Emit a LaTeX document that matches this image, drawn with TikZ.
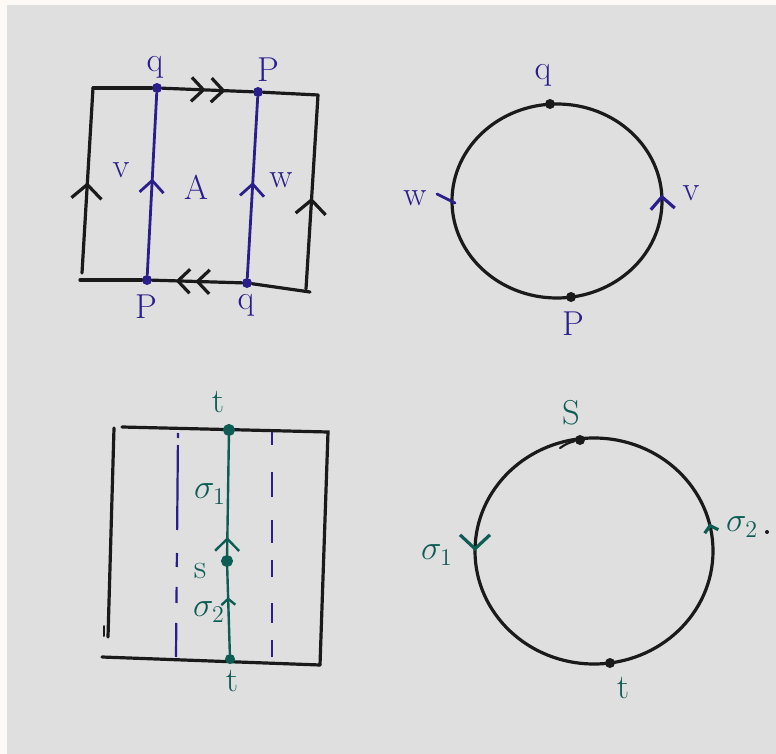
\documentclass[tikz,border=0pt]{standalone}
\usepackage{xcolor}
\usepackage{tikz}
\usetikzlibrary{arrows.meta,decorations.markings}
\definecolor{inkblue}{HTML}{2A1E8C}
\definecolor{inkteal}{HTML}{0E5D55}
\definecolor{inkblack}{HTML}{1A1A1A}
\definecolor{paper}{HTML}{DFDFDF}
\definecolor{rim}{HTML}{FDF9F6}
\begin{document}
\begin{tikzpicture}[x=0.5pt,y=0.5pt, every node/.style={font=\LARGE},
  bigchev/.tip={Straight Barb[length=7pt,width=15pt]},
  chev/.tip={Straight Barb[length=6pt,width=12pt]},
  minichev/.tip={Straight Barb[length=3pt,width=7pt]},
  edge/.style={inkblack,line width=1.6pt,line cap=round},
  bluepath/.style={inkblue,line width=1.4pt,line cap=round},
  tealpath/.style={inkteal,line width=1.2pt,line cap=round},
  dot/.style={circle,fill,inner sep=0pt,minimum size=5pt},
  ringdot/.style={circle,draw,fill=paper,line width=1pt,inner sep=0pt,minimum size=5pt},
  tipat/.style 2 args={postaction={decorate,decoration={markings,mark=at position #1 with {\arrow#2}}}}]
  \fill[rim] (0,0) rectangle (776,-754);
  \fill[paper] (7,-5) rectangle (776,-754);
  \useasboundingbox (0,0) rectangle (776,-754);

  \coordinate (tl) at (93,-88);
  \coordinate (tr) at (318,-95);
  \coordinate (bl) at (80,-280);
  \coordinate (br) at (310,-292);
  \coordinate (lb) at (82,-273);
  \coordinate (rb) at (306,-289);
  \node[dot,inkblue] (q1) at (157,-88) {};
  \node[dot,inkblue] (p1) at (258,-92) {};
  \node[dot,inkblue] (p2) at (147,-280) {};
  \node[dot,inkblue] (q2) at (247,-283) {};
  \draw[edge] (tl) -- (q1);
  \draw[edge,tipat={0.48}{{chev}},tipat={0.70}{{chev}}] (q1) -- (p1);
  \draw[edge] (p1) -- (tr);
  \draw[edge,tipat={0.47}{{bigchev}}] (rb) -- (tr);
  \draw[edge,tipat={0.49}{{bigchev}}] (lb) -- (tl);
  \draw[edge] (bl) -- (p2);
  \draw[edge,tipat={0.52}{{chev}},tipat={0.74}{{chev}}] (q2) -- (p2);
  \draw[edge] (q2) -- (br);
  \draw[bluepath,tipat={0.53}{{chev}}] (p2) -- (q1);
  \draw[bluepath,tipat={0.53}{{chev}}] (q2) -- (p1);
  \node[inkblue] (lq1) at (155,-67) {q};
  \node[inkblue] (lp1) at (268,-70) {P};
  \node[inkblue] (lv) at (121,-170) {v};
  \node[inkblue] (lA) at (196,-187) {A};
  \node[inkblue] (lw) at (281,-180) {w};
  \node[inkblue] (lp2) at (146,-307) {P};
  \node[inkblue] (lq2) at (246,-305) {q};

  \coordinate (c1) at (557,-201);
  \draw[edge,tipat={0.01}{[inkblue]{chev}}] (c1) ellipse [x radius=52.5pt,y radius=48.5pt];
  \node[dot,inkblack] (qc) at (550,-104) {};
  \node[dot,inkblack] (pc) at (571,-297) {};
  \coordinate (wa) at (437,-194);
  \coordinate (wb) at (455,-203);
  \draw[bluepath] (wa) -- (wb);
  \node[inkblue] (lqc) at (543,-75) {q};
  \node[inkblue] (lpc) at (573,-324) {P};
  \node[inkblue] (lwc) at (415,-198) {w};
  \node[inkblue] (lvc) at (691,-193) {v};

  \coordinate (ra) at (122,-427);
  \coordinate (rt) at (328,-432);
  \coordinate (rc) at (320,-665);
  \coordinate (rd) at (102,-657);
  \coordinate (le1) at (114,-428);
  \coordinate (le2) at (108,-637);
  \coordinate (nick1) at (104,-626);
  \coordinate (nick2) at (104,-636);
  \draw[edge] (ra) -- (rt) -- (rc);
  \draw[edge] (rd) -- (rc);
  \draw[edge] (le1) -- (le2);
  \draw[edge,line width=1pt] (nick1) -- (nick2);
  \coordinate (da) at (178,-433);
  \coordinate (db) at (176,-657);
  \coordinate (dc) at (272,-432);
  \coordinate (dd) at (272,-657);
  \draw[bluepath,line width=1.1pt,line cap=butt,dash pattern=on 2.5pt off 3.5pt on 42.5pt off 11.5pt on 7pt off 10pt on 8pt off 10pt on 17pt off 20pt] (da) -- (db);
  \draw[bluepath,line width=1.1pt,line cap=butt,dash pattern=on 6.5pt off 13.5pt on 12.5pt off 11.5pt on 11.5pt off 8.5pt on 8.5pt off 13pt on 10pt off 8.5pt on 8.5pt off 20pt] (dc) -- (dd);
  \node[ringdot,inkteal] (t1) at (229,-430) {};
  \node[ringdot,inkteal] (s) at (227,-561) {};
  \node[dot,inkteal] (t2) at (230,-659) {};
  \draw[tealpath,tipat={0.15}{{chev}}] (s) -- (t1);
  \draw[tealpath,tipat={0.65}{{minichev}}] (t2) -- (s);
  \node[inkteal] (lt1) at (218,-402) {t};
  \node[inkteal] (ls1) at (210,-494) {$\sigma_1$};
  \node[inkteal] (ls) at (200,-571) {s};
  \node[inkteal] (ls2) at (209,-612) {$\sigma_2$};
  \node[inkteal] (lt2) at (232,-681) {t};

  \coordinate (c2) at (594,-551);
  \draw[edge,tipat={0.5}{[inkteal]{bigchev}},tipat={0.038}{[inkteal]{minichev}}] (c2) ellipse [x radius=59.5pt,y radius=56.5pt];
  \node[dot,inkblack] (S) at (580,-440) {};
  \node[dot,inkblack] (tc) at (610,-663) {};
  \coordinate (sa) at (560,-448);
  \draw[edge,line width=1.1pt] (sa) to[bend left=10] (S);
  \node[inkteal] (lS) at (571,-413) {S};
  \node[inkteal] (ltc) at (623,-688) {t};
  \node[inkteal] (lsig1) at (437,-555) {$\sigma_1$};
  \node[inkteal] (lsig2) at (742,-527) {$\sigma_2$};
  \node[dot,inkblack,minimum size=2pt] (stray) at (767,-532) {};
\end{tikzpicture}
\end{document}
